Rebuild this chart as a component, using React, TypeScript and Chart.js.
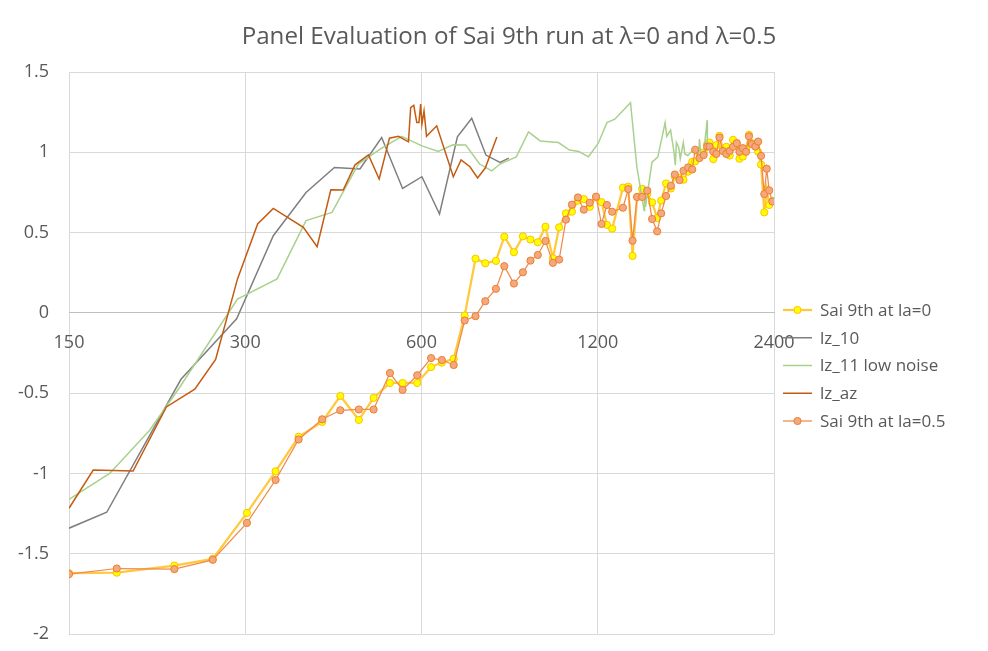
import React, { useEffect, useRef } from 'react';
import { Chart, registerables } from 'chart.js';

Chart.register(...registerables);

const titleText = 'Panel Evaluation of Sai 9th run at λ=0 and λ=0.5';
const xTicks = [150, 300, 600, 1200, 2400];
const yMin = -2;
const yMax = 1.5;
const yStep = 0.5;

const saiX = [
  150, 181, 227, 264, 302, 338, 370, 406, 436, 469,
  497, 530, 557, 590, 623, 650, 681, 711, 742, 771,
  804, 831, 863, 894, 921, 948, 977, 1006, 1031, 1059,
  1084, 1110, 1136, 1163, 1192, 1218, 1244, 1270, 1325, 1353,
  1376, 1401, 1429, 1458, 1486, 1516, 1540, 1570, 1600, 1625,
  1655, 1681, 1712, 1740, 1760, 1790, 1820, 1845, 1862, 1890,
  1913, 1937, 1963, 1990, 2016, 2043, 2073, 2095, 2123, 2150,
  2175, 2200, 2230, 2255, 2281, 2310, 2332, 2355, 2385,
];
const saiLa0Y = [
  -1.62, -1.617, -1.573, -1.531, -1.245, -0.986, -0.771, -0.678, -0.517, -0.666,
  -0.529, -0.436, -0.436, -0.436, -0.337, -0.309, -0.285, -0.016, 0.338, 0.309,
  0.324, 0.475, 0.378, 0.477, 0.457, 0.44, 0.537, 0.34, 0.533, 0.62,
  0.63, 0.699, 0.709, 0.661, 0.72, 0.69, 0.548, 0.525, 0.78, 0.786,
  0.355, 0.722, 0.773, 0.74, 0.688, 0.591, 0.7, 0.806, 0.775, 0.85,
  0.84, 0.829, 0.88, 0.941, 0.943, 0.99, 1.0, 1.05, 1.061, 0.958,
  1.045, 1.102, 1.02, 1.034, 0.98, 1.078, 1.055, 0.96, 0.974, 1.02,
  1.109, 1.057, 1.04, 1.003, 0.924, 0.626, 0.767, 0.672, 0.697,
];
const saiLa05Y = [
  -1.626, -1.591, -1.595, -1.537, -1.307, -1.04, -0.788, -0.662, -0.606, -0.601,
  -0.601, -0.374, -0.479, -0.388, -0.281, -0.293, -0.324, -0.047, -0.02, 0.073,
  0.15, 0.291, 0.183, 0.253, 0.326, 0.361, 0.448, 0.312, 0.332, 0.581,
  0.674, 0.719, 0.643, 0.686, 0.724, 0.554, 0.672, 0.63, 0.655, 0.771,
  0.45, 0.722, 0.722, 0.761, 0.585, 0.508, 0.62, 0.728, 0.792, 0.862,
  0.827, 0.885, 0.906, 0.893, 1.016, 0.964, 0.983, 1.036, 1.036, 1.005,
  0.99, 1.092, 1.008, 0.99, 1.009, 1.034, 1.057, 1.003, 1.026, 1.003,
  1.1, 1.051, 1.036, 1.067, 0.978, 0.74, 0.898, 0.763, 0.694,
];

const lz10X = [150, 174, 233, 290, 335, 381, 426, 471, 513, 557, 601, 644, 691, 731, 773, 817, 846];
const lz10Y = [-1.34, -1.241, -0.413, -0.036, 0.481, 0.75, 0.906, 0.896, 1.092, 0.775, 0.848, 0.616, 1.096, 1.212, 0.983, 0.937, 0.964];

const lz11X = [
  150, 176, 206, 232, 291, 340, 381, 422, 468, 510,
  555, 601, 641, 679, 714, 754, 791, 817, 871, 914,
  957, 1028, 1074, 1114, 1157, 1202, 1244, 1283, 1365, 1400,
  1440, 1443, 1448, 1485, 1520, 1564, 1574, 1598, 1620, 1628,
  1635, 1650, 1660, 1680, 1690, 1710, 1730, 1757, 1785, 1790,
  1800, 1820, 1845, 1847,
];
const lz11Y = [
  -1.16, -0.999, -0.73, -0.461, 0.086, 0.212, 0.575, 0.626, 0.927, 1.02,
  1.1, 1.04, 1.005, 1.047, 1.045, 0.927, 0.885, 0.927, 0.972, 1.127,
  1.071, 1.061, 1.014, 1.005, 0.972, 1.055, 1.185, 1.206, 1.309, 0.906,
  0.637, 0.79, 0.66, 0.937, 0.972, 1.185, 1.1, 1.138, 1.0, 0.92,
  1.061, 1.03, 0.96, 1.061, 0.99, 0.98, 1.0, 1.01, 0.99, 1.082,
  0.99, 0.99, 1.2, 1.03,
];

const lzAzX = [
  150, 165, 193, 220, 246, 267, 291, 315, 335, 377,
  398, 420, 441, 462, 487, 508, 529, 548, 570, 575,
  582, 589, 594, 598, 601, 606, 612, 637, 680, 701,
  726, 748, 771, 807,
];
const lzAzY = [
  -1.216, -0.978, -0.984, -0.585, -0.475, -0.289, 0.212, 0.554, 0.651, 0.533,
  0.413, 0.767, 0.765, 0.922, 0.984, 0.834, 1.088, 1.1, 1.065, 1.278,
  1.293, 1.185, 1.185, 1.3, 1.175, 1.258, 1.1, 1.165, 0.848, 0.952,
  0.91, 0.84, 0.902, 1.096,
];

const seriesLabels = ['Sai 9th at la=0', 'lz_10', 'lz_11 low noise', 'lz_az', 'Sai 9th at la=0.5'];

const FONT = '"Open Sans", "Liberation Sans", "DejaVu Sans", sans-serif';
const TEXT = '#595959';
const GRID = '#D9D9D9';
const AXIS = '#BFBFBF';

const pts = (xs: number[], ys: number[]) => xs.map((x, i) => ({ x, y: ys[i] }));

const titlePlugin = {
  id: 'excelTitle',
  afterDraw(chart: any) {
    const ctx = chart.ctx;
    ctx.save();
    ctx.font = `20px ${FONT}`;
    const w = ctx.measureText(titleText).width;
    const size = 20 * 535 / w;
    ctx.font = `${size}px ${FONT}`;
    ctx.fillStyle = TEXT;
    ctx.textAlign = 'center';
    ctx.textBaseline = 'middle';
    ctx.fillText(titleText, 509, 37);
    ctx.restore();
  },
};

const legendPlugin = {
  id: 'excelLegend',
  afterDraw(chart: any) {
    const ctx = chart.ctx;
    const order = [0, 1, 2, 3, 4];
    const x0 = 783;
    const x1 = 812;
    const top = 310;
    const gap = 27.75;
    ctx.save();
    ctx.font = `17px ${FONT}`;
    ctx.textBaseline = 'middle';
    ctx.textAlign = 'left';
    order.forEach((di, k) => {
      const ds = chart.data.datasets[di];
      const y = top + k * gap;
      ctx.strokeStyle = ds.borderColor;
      ctx.lineWidth = ds.borderWidth;
      ctx.beginPath();
      ctx.moveTo(x0, y);
      ctx.lineTo(x1, y);
      ctx.stroke();
      if (ds.pointRadius > 0) {
        ctx.beginPath();
        ctx.arc((x0 + x1) / 2, y, ds.pointRadius, 0, Math.PI * 2);
        ctx.fillStyle = ds.pointBackgroundColor;
        ctx.fill();
        ctx.lineWidth = ds.pointBorderWidth;
        ctx.strokeStyle = ds.pointBorderColor;
        ctx.stroke();
      }
      ctx.fillStyle = TEXT;
      ctx.fillText(ds.label, 820, y + 1);
    });
    ctx.restore();
  },
};

export default function App() {
  const ref = useRef<HTMLCanvasElement | null>(null);

  useEffect(() => {
    if (!ref.current) return;
    const chart = new Chart(ref.current, {
      type: 'scatter',
      data: {
        datasets: [
          {
            label: seriesLabels[0],
            data: pts(saiX, saiLa0Y),
            showLine: true,
            borderColor: '#FFC83D',
            borderWidth: 2.25,
            pointRadius: 3.6,
            pointBackgroundColor: '#FFFF00',
            pointBorderColor: '#FFC000',
            pointBorderWidth: 1,
            order: 5,
          },
          {
            label: seriesLabels[1],
            data: pts(lz10X, lz10Y),
            showLine: true,
            borderColor: '#7F7F7F',
            borderWidth: 1.5,
            pointRadius: 0,
            order: 4,
          },
          {
            label: seriesLabels[2],
            data: pts(lz11X, lz11Y),
            showLine: true,
            borderColor: '#A9D18E',
            borderWidth: 1.5,
            pointRadius: 0,
            order: 3,
          },
          {
            label: seriesLabels[3],
            data: pts(lzAzX, lzAzY),
            showLine: true,
            borderColor: '#C55A11',
            borderWidth: 1.5,
            pointRadius: 0,
            order: 2,
          },
          {
            label: seriesLabels[4],
            data: pts(saiX, saiLa05Y),
            showLine: true,
            borderColor: '#EF8A4C',
            borderWidth: 1.25,
            pointRadius: 3.6,
            pointBackgroundColor: '#F4A97C',
            pointBorderColor: '#ED7D31',
            pointBorderWidth: 1,
            order: 1,
          },
        ],
      },
      options: {
        responsive: false,
        animation: false,
        events: [],
        layout: { padding: { left: 0, right: 214, top: 72, bottom: 3 } },
        elements: { line: { tension: 0 } },
        plugins: {
          legend: { display: false },
          title: { display: false },
          tooltip: { enabled: false },
        },
        scales: {
          x: {
            type: 'logarithmic',
            min: 150,
            max: 2400,
            position: { y: 0 },
            afterBuildTicks: (scale: any) => {
              scale.ticks = xTicks.map((v) => ({ value: v }));
            },
            ticks: {
              autoSkip: false,
              maxRotation: 0,
              padding: 19,
              color: TEXT,
              font: { family: FONT, size: 18 },
              callback: (v: any) => String(v),
            },
            grid: { color: GRID, lineWidth: 1, drawTicks: false },
            border: { display: true, color: AXIS, width: 1 },
          },
          y: {
            type: 'linear',
            min: yMin,
            max: yMax,
            afterFit: (scale: any) => {
              scale.width = 69;
            },
            ticks: {
              stepSize: yStep,
              padding: 20,
              color: TEXT,
              font: { family: FONT, size: 18 },
              callback: (v: any) => String(Number(Number(v).toFixed(1))),
            },
            grid: {
              color: (c: any) => (c.tick && c.tick.value === 0 ? AXIS : GRID),
              lineWidth: 1,
              drawTicks: false,
            },
            border: { display: false },
          },
        },
      },
      plugins: [titlePlugin, legendPlugin],
    } as any);
    return () => chart.destroy();
  }, []);

  return (
    <div style={{ position: 'absolute', left: 0, top: 0, width: 988, height: 651, overflow: 'hidden', background: '#fff' }}>
      <canvas ref={ref} width={988} height={665} style={{ display: 'block' }} />
    </div>
  );
}
